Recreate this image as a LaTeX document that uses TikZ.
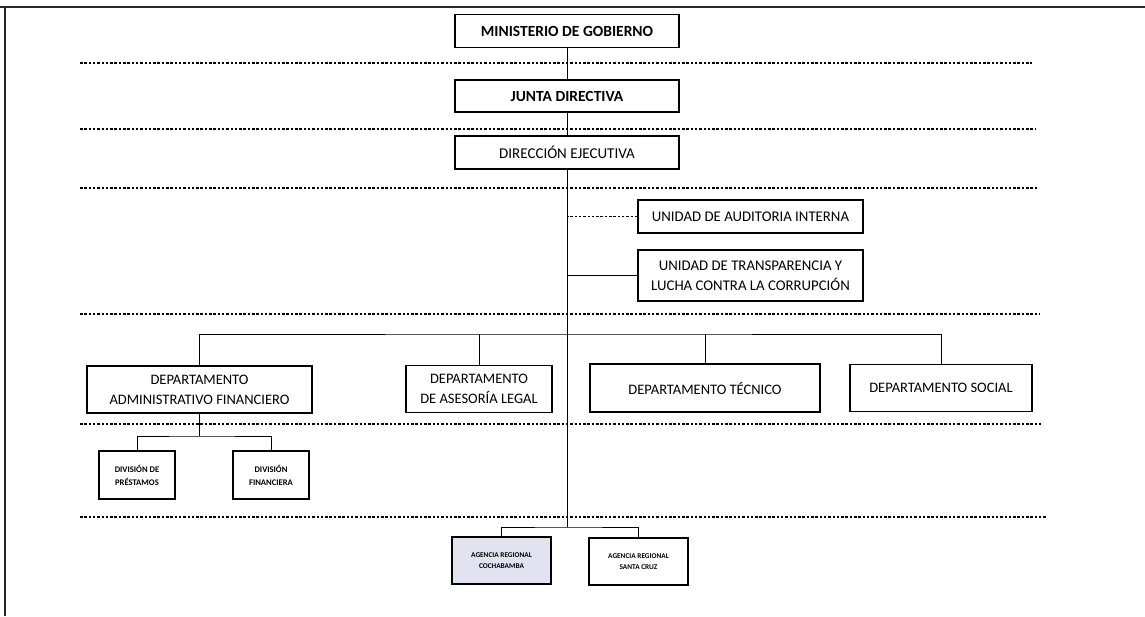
\documentclass[tikz,border=0pt]{standalone}
\usepackage{fontspec}
\setmainfont{Carlito}
\usepackage{tikz}
\usetikzlibrary{positioning,calc}
\definecolor{agencyfill}{RGB}{226,226,240}
\definecolor{framegray}{RGB}{40,40,40}

\begin{document}
\begin{tikzpicture}[
    x=1pt,y=-1pt,
    box/.style={rectangle,draw=black,line width=1.3pt,fill=white,align=center,inner sep=2pt},
    topbox/.style={box,minimum width=224pt,minimum height=33pt,font=\fontsize{15.5}{17}\selectfont\bfseries},
    unitbox/.style={box,minimum width=225pt,font=\fontsize{14.8}{20}\selectfont},
    deptbox/.style={box,minimum height=47pt,font=\fontsize{14.5}{20}\selectfont},
    divbox/.style={box,minimum width=76pt,minimum height=48pt,font=\fontsize{8.6}{13}\selectfont\bfseries},
    agbox/.style={box,minimum width=99pt,minimum height=47pt,font=\fontsize{7.3}{11}\selectfont\bfseries},
    level/.style={line width=1.1pt,dash pattern=on 2.5pt off 1.8pt},
    link/.style={line width=1pt}
]
    \useasboundingbox (0,0) rectangle (1145,616);
    % frame
    \draw[framegray,line width=2pt] (0,7) -- (1145,7);
    \draw[framegray,line width=1.5pt] (5,7) -- (5,616);

    % levels
    \foreach \yy/\xx in {63/1032,129/1035,188/1037,314/1040,424/1042,517/1046}
        \draw[level] (80,\yy) -- (\xx,\yy);

    % top of the chart
    \node[topbox] (mingob) at (567,31) {MINISTERIO DE GOBIERNO};
    \node[topbox,minimum height=32pt] (junta) at (567,96) {JUNTA DIRECTIVA};
    \node[topbox,font=\fontsize{15}{17}\selectfont] (direje) at (567,152.5) {DIRECCIÓN EJECUTIVA};

    % units
    \node[unitbox,minimum height=33pt] (audit) at (750.5,216.5) {UNIDAD DE AUDITORIA INTERNA};
    \node[unitbox,minimum height=51pt] (transp) at (750.5,275.5) {UNIDAD DE TRANSPARENCIA Y\\LUCHA CONTRA LA CORRUPCIÓN};

    % departments
    \node[deptbox,minimum width=225pt] (depadm) at (199.5,389.5) {DEPARTAMENTO\\ADMINISTRATIVO FINANCIERO};
    \node[deptbox,minimum width=146pt] (depleg) at (479,389) {DEPARTAMENTO\\DE ASESORÍA LEGAL};
    \node[deptbox,minimum width=230pt,minimum height=48pt] (deptec) at (705,388) {DEPARTAMENTO TÉCNICO};
    \node[deptbox,minimum width=182pt] (depsoc) at (941,388) {DEPARTAMENTO SOCIAL};

    % divisions
    \node[divbox] (divpre) at (137,475) {DIVISIÓN DE\\PRÉSTAMOS};
    \node[divbox] (divfin) at (271,475) {DIVISIÓN\\FINANCIERA};

    % agencies
    \node[agbox,fill=agencyfill] (agcbba) at (501.5,560.5) {AGENCIA REGIONAL\\COCHABAMBA};
    \node[agbox] (agscz) at (638.5,561.5) {AGENCIA REGIONAL\\SANTA CRUZ};

    \coordinate (depbus) at (567,334);
    \coordinate (divbus) at (199.5,436);
    \coordinate (agbus) at (567,527);

    % connectors
    \draw[link] (mingob) -- (junta);
    \draw[link] (junta) -- (direje);
    \draw[link] (direje.south) -- (agbus);
    \draw[level] (audit.west) -- (audit.west -| direje.south);
    \draw[link] (transp.west) -- (transp.west -| direje.south);
    \draw[link] (depadm.north) |- (depbus) -| (depsoc.north);
    \draw[link] (depleg.north) -- (depleg.north |- depbus);
    \draw[link] (deptec.north) -- (deptec.north |- depbus);
    \draw[link] (depadm.south) -- (divbus);
    \draw[link] (divpre.north) |- (divbus) -| (divfin.north);
    \draw[link] (agcbba.north) |- (agbus) -| (agscz.north);
\end{tikzpicture}
\end{document}
